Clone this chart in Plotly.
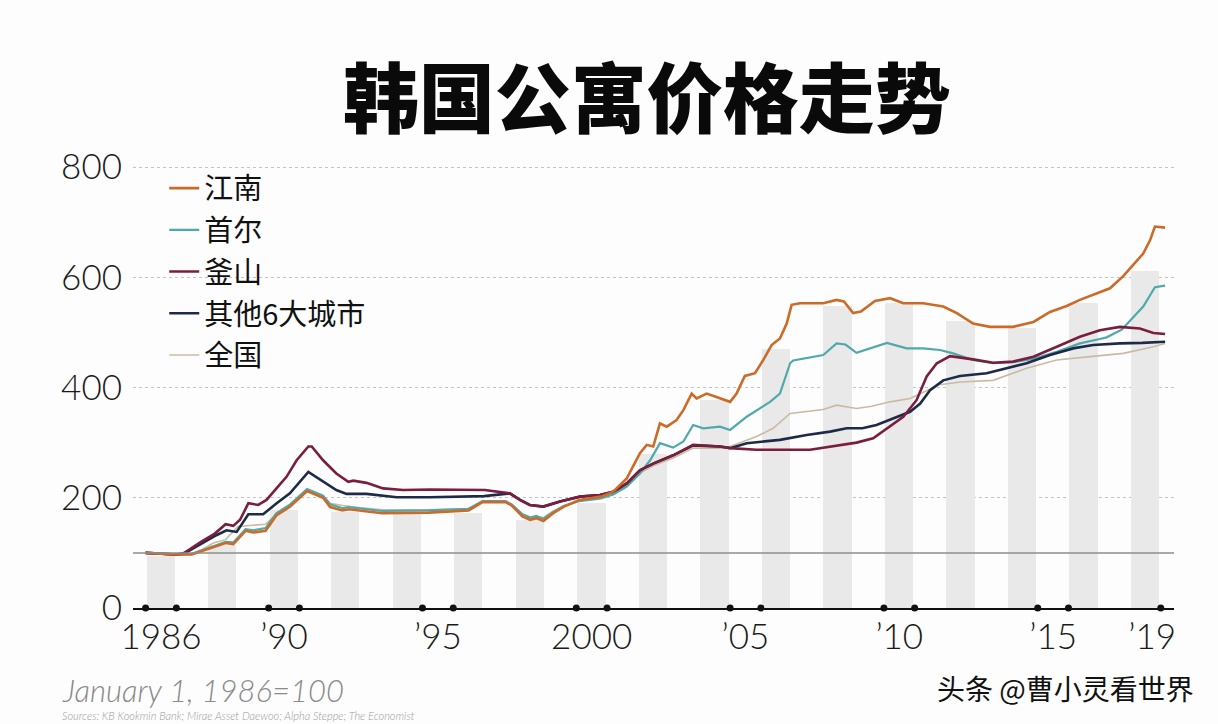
import plotly.graph_objects as go

# ---------------- data (index, January 1, 1986 = 100) ----------------
GANGNAM_X = [1986.0, 1986.5, 1987.0, 1987.5, 1987.8, 1988.2, 1988.6, 1988.85, 1989.25, 1989.5, 1989.9,
             1990.25, 1990.7, 1991.25, 1991.5, 1991.77, 1992.0, 1992.4, 1992.6, 1993.0, 1993.7, 1995.2,
             1996.5, 1996.95, 1997.7, 1997.9, 1998.25, 1998.5, 1998.7, 1998.93, 1999.25, 1999.6, 2000.1,
             2000.8, 2001.2, 2001.64, 2002.07, 2002.29, 2002.5, 2002.72, 2002.94, 2003.26, 2003.48,
             2003.75, 2003.91, 2004.24, 2004.56, 2005.0, 2005.21, 2005.48, 2005.81, 2006.08, 2006.35,
             2006.62, 2006.84, 2007.0, 2007.27, 2008.03, 2008.46, 2008.7, 2009.0, 2009.25, 2009.71,
             2010.2, 2010.63, 2011.28, 2011.93, 2012.37, 2012.9, 2013.45, 2014.2, 2014.86, 2015.4,
             2015.94, 2016.37, 2016.92, 2017.35, 2017.78, 2018.1, 2018.43, 2018.65, 2018.81, 2019.14]
GANGNAM_Y = [100, 98, 97, 97, 103, 111, 118, 116, 140, 137, 140,
             168, 184, 212, 206, 200, 183, 177, 179, 176, 172, 173,
             177, 192, 192, 186, 166, 160, 163, 158, 172, 184, 196,
             202, 211, 235, 281, 296, 293, 335, 329, 341, 359,
             389, 380, 389, 383, 374, 389, 421, 426, 450, 477,
             489, 516, 550, 553, 553, 559, 556, 535, 538, 557,
             562, 553, 553, 547, 535, 516, 510, 510, 519, 537,
             548, 559, 571, 580, 602, 622, 643, 667, 692, 690]

SEOUL_X = [1986.0, 1986.5, 1987.0, 1987.5, 1987.8, 1988.2, 1988.6, 1988.85, 1989.25, 1989.5, 1989.9,
           1990.25, 1990.7, 1991.25, 1991.5, 1991.77, 1992.0, 1992.4, 1992.6, 1993.0, 1993.7, 1995.2,
           1996.5, 1996.95, 1997.7, 1997.9, 1998.25, 1998.5, 1998.7, 1998.93, 1999.25, 1999.6, 2000.1,
           2000.8, 2001.2, 2001.64, 2002.07, 2002.4, 2002.72, 2003.15, 2003.48, 2003.8, 2004.13,
           2004.67, 2005.0, 2005.54, 2006.3, 2006.62, 2006.95, 2007.05, 2008.03, 2008.46, 2008.75,
           2009.11, 2009.5, 2010.1, 2010.74, 2011.28, 2011.82, 2012.25, 2012.9, 2013.55, 2014.2,
           2014.86, 2015.62, 2016.37, 2017.02, 2017.24, 2017.73, 2018.1, 2018.43, 2018.81, 2019.14]
SEOUL_Y = [100, 98, 97, 98, 104, 113, 120, 119, 143, 141, 145,
           172, 188, 216, 210, 204, 188, 181, 183, 180, 176, 177,
           180, 194, 194, 188, 170, 164, 167, 162, 174, 185, 194,
           199, 206, 220, 244, 268, 299, 291, 302, 332, 326,
           329, 323, 347, 374, 389, 444, 449, 459, 480, 478,
           463, 470, 481, 471, 471, 468, 462, 450, 444, 446,
           452, 465, 480, 488, 491, 505, 528, 547, 582, 585]

BUSAN_X = [1986.0, 1986.5, 1987.0, 1987.2, 1987.55, 1987.8, 1988.25, 1988.6, 1988.85, 1989.07, 1989.34,
           1989.66, 1989.93, 1990.26, 1990.58, 1990.91, 1991.29, 1991.4, 1991.77, 1992.2, 1992.59,
           1992.75, 1993.18, 1993.72, 1994.37, 1995.24, 1997.03, 1997.84, 1998.17, 1998.49, 1998.93,
           1999.47, 2000.12, 2000.77, 2001.2, 2001.64, 2002.07, 2002.5, 2003.15, 2003.8, 2004.67,
           2005.0, 2005.86, 2007.6, 2008.25, 2009.11, 2009.65, 2010.2, 2010.63, 2011.06, 2011.39,
           2011.72, 2012.15, 2012.9, 2013.55, 2014.2, 2014.86, 2015.62, 2016.37, 2017.02, 2017.67,
           2018.32, 2018.76, 2019.14]
BUSAN_Y = [100, 98, 97, 98, 111, 120, 135, 152, 149, 160, 190,
           187, 196, 217, 238, 268, 293, 293, 268, 244, 229,
           231, 227, 217, 214, 215, 214, 208, 196, 187, 184,
           193, 202, 205, 211, 226, 250, 262, 277, 296, 293,
           290, 287, 287, 293, 300, 308, 329, 347, 377, 420,
           444, 457, 451, 445, 447, 456, 474, 492, 504, 510,
           507, 499, 497]

OTHER6_X = [1986.0, 1986.5, 1987.0, 1987.3, 1987.6, 1988.0, 1988.3, 1988.63, 1988.96, 1989.34, 1989.82,
            1990.26, 1990.69, 1991.29, 1991.77, 1992.2, 1992.53, 1993.18, 1994.16, 1995.24, 1997.0,
            1997.84, 1998.17, 1998.49, 1998.93, 1999.47, 2000.12, 2000.77, 2001.2, 2001.64, 2002.07,
            2002.5, 2003.15, 2003.8, 2004.67, 2005.0, 2005.54, 2006.62, 2007.49, 2008.25, 2008.79,
            2009.3, 2009.76, 2010.41, 2010.85, 2011.18, 2011.5, 2011.93, 2012.47, 2013.34, 2013.99,
            2014.64, 2015.4, 2016.15, 2016.8, 2017.67, 2018.4, 2019.14]
OTHER6_Y = [100, 98, 97, 100, 110, 122, 132, 141, 138, 170, 170,
            190, 208, 247, 229, 214, 207, 207, 201, 201, 203,
            208, 196, 187, 184, 193, 202, 205, 211, 226, 250,
            262, 277, 295, 293, 290, 299, 305, 314, 320, 326,
            326, 332, 347, 356, 371, 395, 413, 421, 426, 435,
            444, 459, 471, 477, 480, 481, 483]

NATIONAL_X = [1986.0, 1986.5, 1987.0, 1987.5, 1987.8, 1988.2, 1988.6, 1989.0, 1989.5, 1989.9, 1990.25,
              1990.7, 1991.25, 1991.77, 1992.0, 1992.4, 1993.0, 1993.7, 1995.2, 1996.5, 1996.95,
              1997.7, 1997.9, 1998.25, 1998.5, 1998.93, 1999.25, 1999.6, 2000.1, 2000.8, 2001.2,
              2001.64, 2002.07, 2002.5, 2003.15, 2003.8, 2004.67, 2005.0, 2005.86, 2006.4, 2006.95,
              2008.03, 2008.46, 2009.11, 2009.6, 2010.2, 2010.85, 2011.3, 2011.8, 2012.5, 2013.55,
              2014.64, 2015.62, 2016.7, 2017.78, 2018.76, 2019.14]
NATIONAL_Y = [100, 98, 97, 99, 105, 118, 124, 148, 150, 152, 170,
              186, 214, 203, 190, 186, 182, 178, 178, 180, 193,
              193, 188, 170, 165, 164, 176, 186, 195, 200, 207,
              222, 245, 258, 272, 290, 290, 293, 311, 326, 353,
              360, 368, 362, 366, 374, 380, 392, 405, 410, 413,
              435, 450, 456, 462, 474, 480]

# alternate-year shading (even years) and its height
BAR_YEARS = [1986, 1988, 1990, 1992, 1994, 1996, 1998, 2000, 2002, 2004, 2006, 2008, 2010, 2012, 2014, 2016, 2018]
BAR_HEIGHTS = [95, 115, 178, 175, 170, 172, 160, 190, 280, 378, 470, 547, 553, 520, 508, 553, 612]

BASE_INDEX = 100
DOT_YEARS = [1986, 1987, 1990, 1991, 1995, 1996, 2000, 2001, 2005, 2006, 2010, 2011, 2015, 2016, 2019]
TICK_POS = [1986.5, 1990.5, 1995.5, 2000.5, 2005.5, 2010.5, 2015.5, 2018.72]
TICK_TEXT = ["1986", "\u201990", "\u201995", "2000", "\u201905", "\u201910", "\u201915", "\u201919"]
Y_TICKS = [0, 200, 400, 600, 800]

TITLE = "韩国公寓价格走势"
NOTE = "January 1, 1986=100"
SOURCE = "Sources: KB Kookmin Bank; Mirae Asset Daewoo; Alpha Steppe; The Economist"
WATERMARK = "头条 @曹小灵看世界"

NUM_FONT = "Lato, 'Open Sans', sans-serif"
CJK_FONT = "'Noto Sans CJK SC', sans-serif"

fig = go.Figure()

fig.add_trace(go.Bar(
    x=[y + 0.49 for y in BAR_YEARS], y=BAR_HEIGHTS, width=0.92,
    marker=dict(color="#e9e9e9", line=dict(width=0)),
    showlegend=False, hoverinfo="skip"))

series = [
    ("全国", NATIONAL_X, NATIONAL_Y, "#c9bba3", 1.6, 5),
    ("首尔", SEOUL_X, SEOUL_Y, "#4fa9ab", 2.2, 2),
    ("其他6大城市", OTHER6_X, OTHER6_Y, "#1e2b48", 2.6, 4),
    ("釜山", BUSAN_X, BUSAN_Y, "#7b1d3c", 2.6, 3),
    ("江南", GANGNAM_X, GANGNAM_Y, "#cc6a28", 2.6, 1),
]
for name, xs, ys, col, w, rank in series:
    fig.add_trace(go.Scatter(
        x=xs, y=ys, mode="lines", name=name,
        line=dict(color=col, width=w), legendrank=rank, legendgroup=name,
        hoverinfo="skip"))

fig.add_hline(y=BASE_INDEX, line=dict(color="#8c8c8c", width=1.5), layer="above")

fig.add_trace(go.Scatter(
    x=DOT_YEARS, y=[0] * len(DOT_YEARS), mode="markers",
    marker=dict(color="#111111", size=7), cliponaxis=False,
    showlegend=False, hoverinfo="skip"))

fig.update_layout(
    width=1218, height=724,
    margin=dict(l=133, r=44, t=156, b=116),
    paper_bgcolor="#fdfdfd", plot_bgcolor="#fdfdfd",
    showlegend=True,
    title=dict(text=TITLE, x=0.531, xanchor="center", y=0.862, yanchor="middle",
               font=dict(family=CJK_FONT, size=76, color="#0a0a0a", weight=900)),
    legend=dict(x=0.03, y=0.985, xanchor="left", yanchor="top",
                bgcolor="rgba(0,0,0,0)", tracegroupgap=1,
                font=dict(family=CJK_FONT, size=29, color="#111111"),
                itemwidth=30),
    xaxis=dict(range=[1985.59, 2019.43], tickvals=TICK_POS, ticktext=TICK_TEXT,
               showgrid=False, zeroline=False, showline=True, linecolor="#111111", linewidth=2,
               ticks="", ticklabelstandoff=-3,
               tickfont=dict(family=NUM_FONT, size=35, color="#1a1a1a", weight=300)),
    yaxis=dict(range=[0, 820], tickvals=Y_TICKS, ticktext=[str(v) for v in Y_TICKS],
               showgrid=True, gridcolor="#c4c4c4", griddash="dot", gridwidth=1,
               zeroline=False, showline=False, ticks="", ticklabelstandoff=10,
               tickfont=dict(family=NUM_FONT, size=35, color="#1a1a1a", weight=300)),
    bargap=0,
)

fig.add_annotation(text=NOTE, xref="paper", yref="paper", x=(60 - 133) / 1041,
                   y=-(690 - 608) / 452, xanchor="left", yanchor="middle", showarrow=False,
                   font=dict(family=NUM_FONT, size=31, color="#8a8a8a", style="italic", weight=300))
fig.add_annotation(text=SOURCE, xref="paper", yref="paper", x=(60 - 133) / 1041,
                   y=-(724 - 608) / 452, xanchor="left", yanchor="bottom", showarrow=False,
                   font=dict(family=NUM_FONT, size=11, color="#9a9a9a", style="italic", weight=300))
fig.add_annotation(text=WATERMARK, xref="paper", yref="paper", x=(1196 - 133) / 1041,
                   y=-(688 - 608) / 452, xanchor="right", yanchor="middle", showarrow=False,
                   font=dict(family=CJK_FONT, size=28, color="#111111"))

fig.write_html("out.html")
